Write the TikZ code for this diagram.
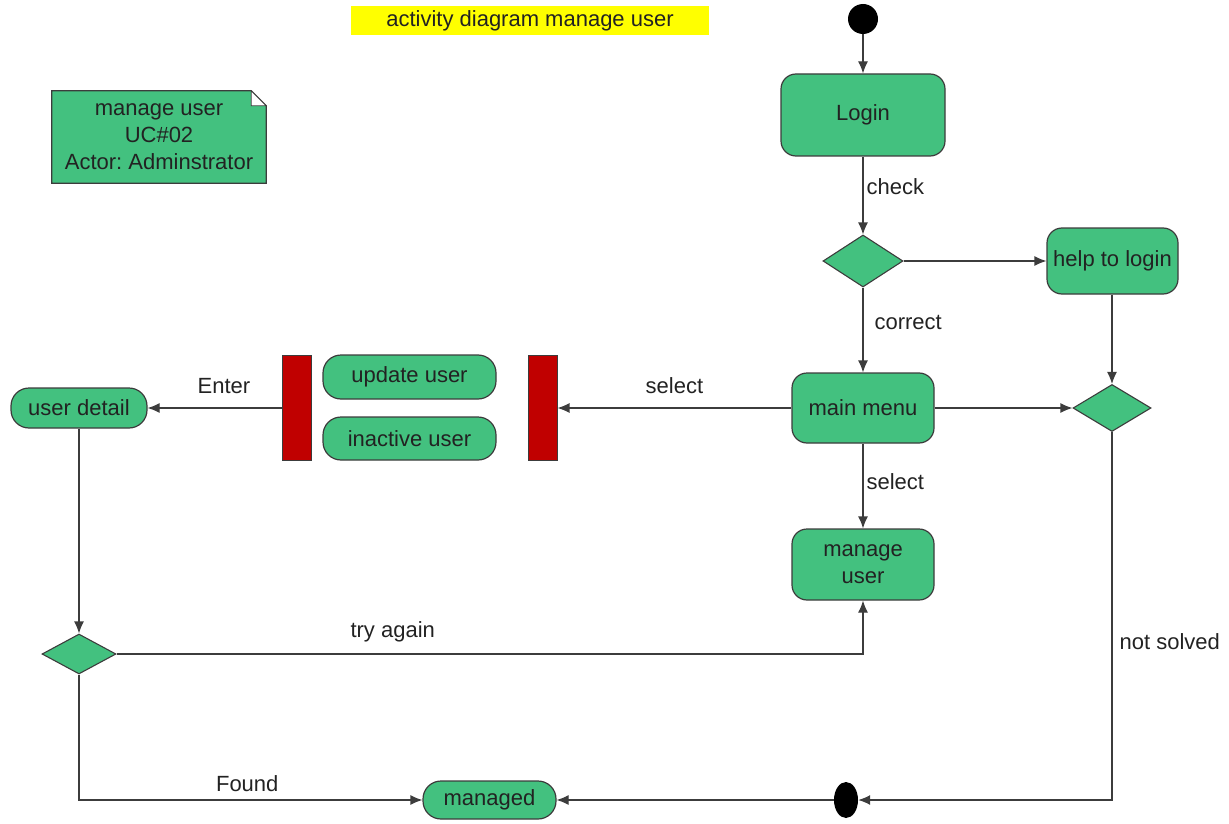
\documentclass[tikz,border=0pt]{standalone}
\usepackage{fontspec}
\setmainfont{Liberation Sans}
\usetikzlibrary{arrows.meta,shapes.geometric,calc}
\frenchspacing

\definecolor{actgreen}{RGB}{67,193,127}
\definecolor{barred}{RGB}{192,0,0}
\definecolor{edge}{RGB}{60,60,60}
\definecolor{ink}{RGB}{34,34,34}
\definecolor{titlebg}{RGB}{255,255,0}

\tikzset{
  every node/.style={font=\fontsize{22}{26}\selectfont, text=ink},
  act/.style={draw=edge, line width=1.2pt, fill=actgreen, rounded corners=15pt, align=center, inner sep=0pt},
  pill/.style={act, rounded corners=18pt},
  decision/.style={draw=edge, line width=1.1pt, fill=actgreen, diamond, inner sep=0pt},
  syncbar/.style={draw=edge, line width=1pt, fill=barred, inner sep=0pt, minimum width=29pt, minimum height=105pt},
  flow/.style={draw=edge, line width=1.2pt, -{Latex[length=12pt,width=10pt]}},
  lbl/.style={inner sep=0pt},
}

\begin{document}
\begin{tikzpicture}[x=1pt,y=-1pt]
\useasboundingbox (0,0) rectangle (1229,824);

% title banner
\node[fill=titlebg, minimum width=358pt, minimum height=29pt, inner sep=0pt] (title) at (530,20.5) {activity diagram manage user};

% use-case note with folded corner
\node[minimum width=214pt, minimum height=92pt, inner sep=0pt, align=center] (note) at (159,137) {};
\filldraw[draw=edge, line width=1.2pt, fill=actgreen]
  (note.south west) -- (note.north west) -- ($(note.north east)+(-15,0)$)
  -- ($(note.north east)+(0,15)$) -- (note.south east) -- cycle;
\filldraw[draw=edge, line width=0.8pt, fill=white]
  ($(note.north east)+(-15,0)$) -- ($(note.north east)+(0,15)$) -- ($(note.north east)+(-15,15)$) -- cycle;
\node[align=center, font=\fontsize{22}{27}\selectfont] (notetext) at (note.center) {manage user\\UC\#02\\Actor: Adminstrator};

% initial and final nodes
\node[circle, fill=black, minimum size=30pt, inner sep=0pt] (init) at (863,19) {};
\node[ellipse, fill=black, minimum width=24pt, minimum height=36pt, inner sep=0pt] (final) at (846,800) {};

% activities
\node[act, minimum width=164pt, minimum height=82pt] (login) at (863,115) {Login};
\node[act, minimum width=131pt, minimum height=66pt] (help) at (1112.5,261) {help to login};
\node[act, minimum width=142pt, minimum height=70pt] (main) at (863,408) {main menu};
\node[act, minimum width=142pt, minimum height=71pt, font=\fontsize{22}{27}\selectfont] (manage) at (863,564.5) {manage\\user};
\node[pill, minimum width=136pt, minimum height=40pt] (detail) at (79,408) {user detail};
\node[pill, minimum width=173pt, minimum height=44pt] (update) at (409.5,377) {update user};
\node[pill, minimum width=173pt, minimum height=43pt] (inactive) at (409.5,438.5) {inactive user};
\node[pill, minimum width=133pt, minimum height=38pt] (managed) at (489.5,800) {managed};

% fork/join bars
\node[syncbar] (bar1) at (296.5,408) {};
\node[syncbar] (bar2) at (542.5,408) {};

% decisions
\node[decision, minimum width=80pt, minimum height=52pt] (d1) at (863,261) {};
\node[decision, minimum width=78pt, minimum height=47pt] (d2) at (1112,408) {};
\node[decision, minimum width=74pt, minimum height=40pt] (d3) at (79,654) {};

% control flows
\draw[flow] (init) -- (login);
\draw[flow] (login) -- (d1) node[lbl, anchor=west, pos=0.38, xshift=3pt] {check};
\draw[flow] (d1) -- (help);
\draw[flow] (d1) -- (main) node[lbl, anchor=west, pos=0.41, xshift=11pt] {correct};
\draw[flow] (help.south -| d2.north) -- (d2.north);
\draw[flow] (main) -- (d2);
\draw[flow] (main) -- (manage) node[lbl, anchor=west, pos=0.45, xshift=3pt] {select};
\draw[flow] (main.west) -- (bar2.east) node[lbl, pos=0.5, yshift=22pt] {select};
\draw[flow] (bar1.west) -- (detail.east) node[lbl, pos=0.43, yshift=22pt] {Enter};
\draw[flow] (detail) -- (d3);
\draw[flow] (d3.east) -| (manage.south) node[lbl, pos=0.185, yshift=22pt] {try again};
\draw[flow] (d3.south) |- (managed.west) node[lbl, pos=0.745, yshift=16pt] {Found};
\draw[flow] (d2.south) |- (final.east) node[lbl, anchor=west, pos=0.285, xshift=7pt] {not solved};
\draw[flow] (final.west) -- (managed.east);
\end{tikzpicture}
\end{document}
